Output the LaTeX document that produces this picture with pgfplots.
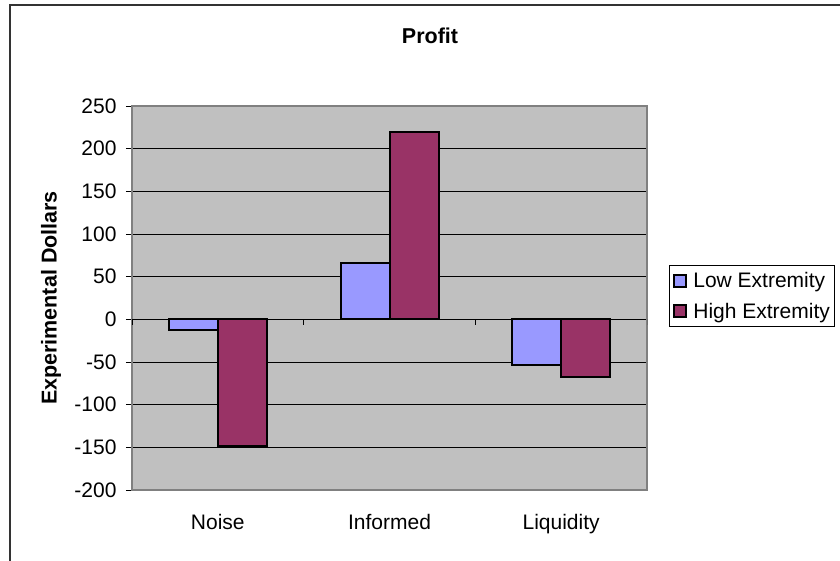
\documentclass[border=0pt]{standalone}
\usepackage{fontspec}
\setmainfont{Liberation Sans}
\usepackage{pgfplots}
\pgfplotsset{compat=1.18}
\definecolor{lowc}{HTML}{9999FF}
\definecolor{highc}{HTML}{993366}
\definecolor{plotbg}{HTML}{C0C0C0}
\definecolor{frame}{HTML}{808080}
\begin{document}
\begin{tikzpicture}[x=1pt,y=1pt]
\useasboundingbox (0,0) rectangle (840,-561);
\draw[line width=1.5pt, color=black!80] (10,-600) -- (10,-5) -- (900,-5);
\begin{axis}[
  at={(132pt,-490pt)}, anchor=south west,
  width=515pt, height=384pt, scale only axis,
  ybar=0pt, bar width=49pt,
  xmin=-0.5, xmax=2.5, ymin=-200, ymax=250,
  xtick={0,1,2}, xticklabels={Noise,Informed,Liquidity},
  ytick={-200,-150,...,250},
  major x tick style={draw=none},
  ytick pos=left, tick align=outside, major tick length=6pt,
  tick style={black, line width=0.8pt},
  axis line style={draw=frame, line width=2pt},
  axis background/.style={fill=plotbg},
  ymajorgrids, grid style={black, line width=0.8pt},
  /pgf/number format/assume math mode=true,
  ticklabel style={font=\fontsize{21}{25}\selectfont},
  yticklabel style={xshift=-6pt},
  xticklabel style={yshift=-15pt},
  title={\bfseries Profit},
  title style={font=\fontsize{21.5}{25}\selectfont, at={(axis description cs:0.5786,1.167)}, anchor=center},
  ylabel={\bfseries Experimental Dollars},
  ylabel style={font=\fontsize{21.5}{25}\selectfont, at={(axis description cs:-0.157,0.5)}, anchor=center},
  legend style={at={(axis description cs:1.0427,0.586)}, anchor=north west,
    draw=black, line width=0.8pt, font=\fontsize{21}{25}\selectfont,
    row sep=10pt, inner xsep=2pt, inner ysep=5pt, fill=white},
  legend cell align=left,
  legend image code/.code={\draw[#1, line width=2pt] (3pt,-6pt) rectangle (15pt,6pt); \path[draw=none, fill=none] (0pt,0pt) -- (20pt,0pt);},
]
\addplot[fill=lowc, draw=black, line width=2pt] coordinates {(0,-12) (1,66) (2,-53)};
\addplot[fill=highc, draw=black, line width=2pt] coordinates {(0,-149) (1,219) (2,-67)};
\legend{Low Extremity, High Extremity}
\foreach \t in {-0.5,0.5,1.5,2.5} {
  \edef\temp{\noexpand\draw[black, line width=0.8pt] (axis cs:\t,0) -- ([yshift=-6pt]axis cs:\t,0);}
  \temp
}
\end{axis}
\end{tikzpicture}
\end{document}
